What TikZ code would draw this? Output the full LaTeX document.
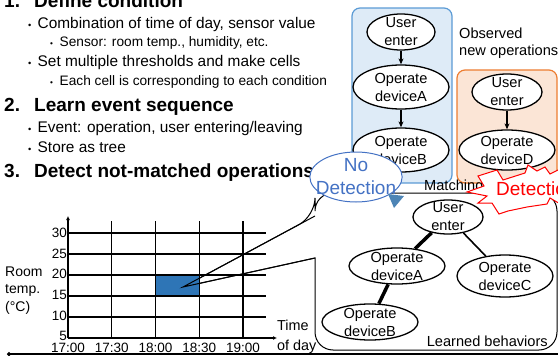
\documentclass[tikz,border=0pt]{standalone}
\usepackage{fontspec}
\setmainfont{Liberation Sans}
\usetikzlibrary{arrows.meta}
\usetikzlibrary{shapes.geometric}
\definecolor{boxblue}{HTML}{DEEBF7}
\definecolor{lineblue}{HTML}{5B9BD5}
\definecolor{boxorange}{HTML}{FBE5D6}
\definecolor{lineorange}{HTML}{ED7D31}
\definecolor{textblue}{HTML}{4472C4}
\definecolor{cellblue}{HTML}{2E75B6}
\newcommand\headfont{\fontsize{19}{22}\bfseries\selectfont}
\newcommand\itemfont{\fontsize{15.4}{18}\selectfont}
\newcommand\subfont{\fontsize{13.7}{16}\selectfont}
\newcommand\nodefont{\fontsize{14.6}{18}\selectfont}
\newcommand\tickfont{\fontsize{13.5}{16}\selectfont}
\newcommand\bigfont{\fontsize{19}{23}\selectfont}
\newcommand\headnum[1]{\makebox[30pt][l]{#1}}
\newcommand\itembullet{\makebox[9.5pt][l]{\scalebox{0.6}{\textbullet}}}
\newcommand\gridxsep{43.75}
\newcommand\gridysep{21}

\begin{document}
\begin{tikzpicture}[
    x=1pt,y=-1pt,
    txt/.style={anchor=base west,inner sep=0pt},
    box/.style={rounded corners=8pt,line width=1.2pt},
    state/.style={ellipse,draw,line width=1.3pt,fill=white,inner xsep=0pt,
      inner ysep=-3pt,align=center,font=\nodefont},
    arr/.style={-{Stealth[length=6pt,width=5pt]},line width=1.2pt},
    mainbranch/.style={line width=3.5pt},
    sidebranch/.style={line width=1.6pt},
    gridline/.style={line width=1.1pt},
    axis/.style={line width=1.1pt,-{Latex[length=4pt,width=4pt]}}
  ]
    \useasboundingbox (0,0) rectangle (558,356);

    % left column: steps
    \node[txt] (head1) at (4,8) {\headfont\headnum{1.}Define condition};
    \node[txt] (item1) at (28,28.3) {\itemfont\itembullet Combination of time of day, sensor value};
    \node[txt] (sub1) at (50,46.7) {\subfont\itembullet Sensor: room temp., humidity, etc.};
    \node[txt] (item2) at (28,66) {\itemfont\itembullet Set multiple thresholds and make cells};
    \node[txt] (sub2) at (50,85) {\subfont\itembullet Each cell is corresponding to each condition};
    \node[txt] (head2) at (4,111.7) {\headfont\headnum{2.}Learn event sequence};
    \node[txt] (item3) at (28,132.7) {\itemfont\itembullet Event: operation, user entering/leaving};
    \node[txt] (item4) at (28,152.3) {\itemfont\itembullet Store as tree};
    \node[txt] (head3) at (4,177.7) {\headfont\headnum{3.}Detect not-matched operations};

    % matched sequence
    \draw[box,draw=lineblue,fill=boxblue] (352,8) rectangle (452,183);
    \node[state,minimum width=68,minimum height=36] (buser) at (401,32) {User\\enter};
    \node[state,minimum width=96,minimum height=44] (bdeva) at (401,87) {Operate\\deviceA};
    \node[state,minimum width=96,minimum height=44] (bdevb) at (401,150) {Operate\\deviceB};
    \draw[arr] (buser) -- (bdeva);
    \draw[arr] (bdeva) -- (bdevb);

    % new sequence
    \node[anchor=west,align=left,inner sep=0pt,font=\fontsize{14.6}{17}\selectfont]
      (observed) at (459,43.5) {Observed\\new operations};
    \draw[box,draw=lineorange,fill=boxorange] (457,70) rectangle (557,183);
    \node[state,minimum width=70,minimum height=36] (ouser) at (507,92) {User\\enter};
    \node[state,minimum width=96,minimum height=40] (odevd) at (507,150) {Operate\\deviceD};
    \draw[arr] (ouser) -- (odevd);

    % learned tree in callout
    \coordinate (tip) at (183,287);
    \draw[line width=1pt] (tip) -- (315,258)
      {[rounded corners=18pt] -- (315,350) -- (557,350) -- (557,193) -- (315,193) -- (315,216)}
      -- cycle;
    \node[state,minimum width=70,minimum height=34] (tuser) at (448,217) {User\\enter};
    \node[state,minimum width=96,minimum height=36] (tdeva) at (397,266) {Operate\\deviceA};
    \node[state,minimum width=96,minimum height=42] (tdevc) at (505,276) {Operate\\deviceC};
    \node[state,minimum width=96,minimum height=36] (tdevb) at (370,322) {Operate\\deviceB};
    \draw[mainbranch] (tuser) -- (tdeva);
    \draw[mainbranch] (tdeva) -- (tdevb);
    \draw[sidebranch] (tuser) -- (tdevc);
    \node[anchor=east,inner sep=0pt,font=\nodefont] (learned) at (548,341) {Learned behaviors};
    \node[anchor=west,inner sep=0pt,font=\nodefont] (matching) at (424,187) {Matching};

    % condition grid
    \fill[cellblue] (68+2*\gridxsep,338-3*\gridysep) rectangle (68+3*\gridxsep,338-2*\gridysep);
    \foreach \v [count=\i from 0] in {5,10,15,20,25,30} {
      \ifnum\i>0
        \draw[gridline] (68,338-\i*\gridysep) -- (266,338-\i*\gridysep);
      \fi
      \node[anchor=east,inner sep=0pt,font=\tickfont] (ytick\i) at (67,336-\i*\gridysep+\i*0.4) {\v};
    }
    \foreach \t [count=\j from 0] in {17:00,17:30,18:00,18:30,19:00} {
      \ifnum\j>0
        \draw[gridline] (68+\j*\gridxsep,221) -- (68+\j*\gridxsep,338);
      \fi
      \node[inner sep=0pt,font=\tickfont] (xtick\j) at (68+\j*\gridxsep,348) {\t};
    }
    \coordinate (origin) at (68,338);
    \coordinate (ytop) at (68,216);
    \coordinate (xend) at (277,338);
    \draw[axis] (origin) -- (ytop);
    \draw[axis] (origin) -- (xend);
    \draw[line width=1pt] (315,216) -- (tip) -- (315,258);
    \node[anchor=west,align=left,inner sep=0pt,font=\fontsize{14}{17.5}\selectfont]
      (ylabel) at (5,290.5) {Room\\temp.\\(°C)};
    \node[anchor=west,align=left,inner sep=0pt,font=\fontsize{14.4}{20}\selectfont]
      (xlabel) at (277,337) {Time\\of day};

    % results
    \node[ellipse,draw=textblue,line width=1pt,fill=white,inner xsep=-7.5pt,
      inner ysep=-2.5pt,minimum width=92,minimum height=50,text=textblue,align=center,
      font=\fontsize{19}{23}\selectfont] (nodetect) at (356,177) {No\\Detection};
    \fill[lineblue!85!black] (388,194) -- (404,196) -- (394,208) -- cycle;
    \draw[red,line width=1pt,fill=white] (497,170) -- (503,180) -- (525,173) -- (528,165)
      -- (537,171) -- (545,167) -- (550,174) -- (562,168) -- (562,205) -- (550,198)
      -- (547,204) -- (527,207) -- (508,211) -- (499,214) -- (492,203) -- (478,203)
      -- (487,196) -- (467,192) -- (484,186) -- (478,176) -- cycle;
    \node[anchor=west,inner sep=0pt,text=red,font=\bigfont] (detect) at (496,189) {Detection};

    % footer rule
    \coordinate (footl) at (7,354);
    \coordinate (footr) at (558,354);
    \draw[line width=1.2pt,{Circle[length=4pt]}-] (footl) -- (footr);
  \end{tikzpicture}
\end{document}
